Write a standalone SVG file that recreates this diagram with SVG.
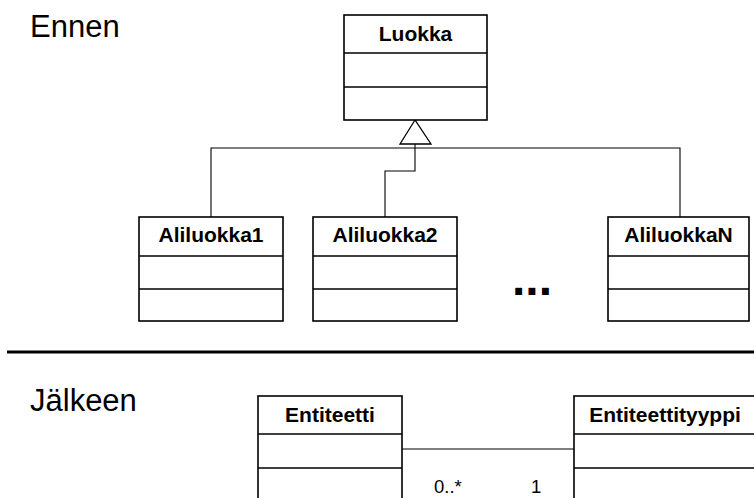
<svg xmlns="http://www.w3.org/2000/svg" width="754" height="498" viewBox="0 0 754 498">
  <style>
    .box { fill: #ffffff; stroke: #000000; stroke-width: 1.6; }
    .div { stroke: #000000; stroke-width: 1.6; }
    .name { font-family: "Liberation Sans", Arial, sans-serif; font-size: 21px; font-weight: bold; text-anchor: middle; fill: #000000; }
    .title { font-family: "Liberation Sans", Arial, sans-serif; font-size: 31px; fill: #000000; }
    .mult { font-family: "Liberation Sans", Arial, sans-serif; font-size: 18.5px; fill: #000000; }
    .conn { fill: none; stroke: #000000; stroke-width: 1.1; }
  </style>

  <rect width="754" height="498" fill="#ffffff"/>

  <!-- section titles -->
  <text class="title" x="30" y="37">Ennen</text>
  <text class="title" x="30" y="411">Jälkeen</text>

  <!-- section separator -->
  <line x1="7" y1="352" x2="754" y2="352" stroke="#000000" stroke-width="3"/>

  <!-- connectors -->
  <g id="connectors">
    <!-- generalization tree -->
    <polygon points="415,120 400,144 431,144" fill="#ffffff" stroke="#000000" stroke-width="1.3"/>
    <polyline class="conn" points="211,217 211,148 680,148 680,217"/>
    <polyline class="conn" points="415,144 415,171 385,171 385,217"/>
    <!-- association -->
    <line class="conn" x1="402" y1="449" x2="574" y2="449" stroke="#333333"/>
    <text class="mult" x="434" y="493">0..*</text>
    <text class="mult" x="531" y="493">1</text>
  </g>

  <g id="luokka">
    <rect class="box" x="344" y="15" width="143" height="105"/>
    <line class="div" x1="344" y1="53" x2="487" y2="53"/>
    <line class="div" x1="344" y1="87" x2="487" y2="87"/>
    <text class="name" x="415.5" y="41">Luokka</text>
  </g>

  <g id="aliluokka1">
    <rect class="box" x="139" y="217" width="144" height="104"/>
    <line class="div" x1="139" y1="256" x2="283" y2="256"/>
    <line class="div" x1="139" y1="289" x2="283" y2="289"/>
    <text class="name" x="211" y="242">Aliluokka1</text>
  </g>

  <g id="aliluokka2">
    <rect class="box" x="313" y="217" width="144" height="104"/>
    <line class="div" x1="313" y1="256" x2="457" y2="256"/>
    <line class="div" x1="313" y1="289" x2="457" y2="289"/>
    <text class="name" x="385" y="242">Aliluokka2</text>
  </g>

  <g id="ellipsis">
    <text x="512" y="295" font-family="Liberation Sans, Arial, sans-serif" font-size="48" font-weight="bold" fill="#000000">...</text>
  </g>

  <g id="aliluokkaN">
    <rect class="box" x="608" y="217" width="141" height="104"/>
    <line class="div" x1="608" y1="256" x2="749" y2="256"/>
    <line class="div" x1="608" y1="289" x2="749" y2="289"/>
    <text class="name" x="678.5" y="242">AliluokkaN</text>
  </g>

  <g id="entiteetti">
    <rect class="box" x="258" y="396" width="144" height="110"/>
    <line class="div" x1="258" y1="434" x2="402" y2="434"/>
    <line class="div" x1="258" y1="468" x2="402" y2="468"/>
    <text class="name" x="330" y="422">Entiteetti</text>
  </g>

  <g id="entiteettityyppi">
    <rect class="box" x="574" y="396" width="182" height="110"/>
    <line class="div" x1="574" y1="434" x2="756" y2="434"/>
    <line class="div" x1="574" y1="468" x2="756" y2="468"/>
    <text class="name" x="665" y="422">Entiteettityyppi</text>
  </g>
</svg>
